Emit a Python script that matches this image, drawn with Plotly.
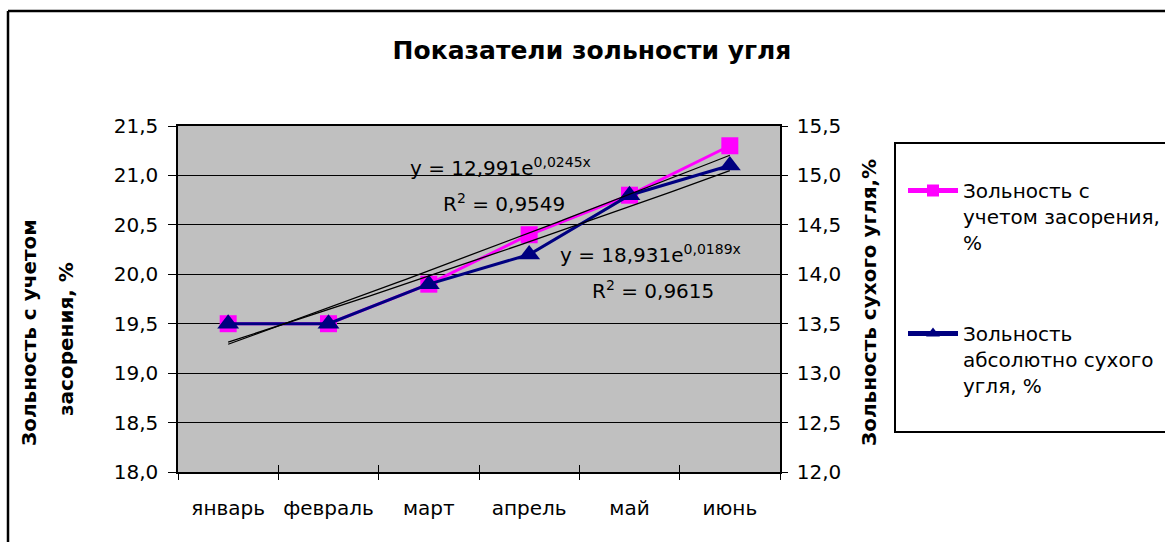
import numpy as np
import plotly.graph_objects as go

# --- data ---------------------------------------------------------------
months = ["январь", "февраль", "март", "апрель", "май", "июнь"]
ash_with_clogging = [19.5, 19.5, 19.9, 20.4, 20.8, 21.3]   # left axis, %
ash_dry_coal = [13.5, 13.5, 13.9, 14.2, 14.8, 15.1]         # right axis, %

# exponential trendlines y = a * exp(b * x), x = month number
trend_dry_coef = (12.991, 0.0245)
trend_dry_r2 = 0.9549
trend_clog_coef = (18.931, 0.0189)
trend_clog_r2 = 0.9615

left_ticks = [18.0, 18.5, 19.0, 19.5, 20.0, 20.5, 21.0, 21.5]
right_ticks = [12.0, 12.5, 13.0, 13.5, 14.0, 14.5, 15.0, 15.5]

# --- layout geometry (pixels) -------------------------------------------
W, H = 1165, 542
L, R, T, B = 178, 780, 126, 472
FONT = "DejaVu Sans"


def px_x(px):
    return (px - L) / (R - L)


def px_y(py):
    return (B - py) / (B - T)


def num(v, d):
    return f"{v:.{d}f}".replace(".", ",")


x_idx = list(range(1, len(months) + 1))
x_fine = np.linspace(1, len(months), 80)

fig = go.Figure()

fig.add_trace(go.Scatter(
    x=x_idx, y=ash_with_clogging, mode="lines+markers",
    name="Зольность с<br>учетом засорения,<br>%",
    legendgroup="a",
    line=dict(color="#FF00FF", width=3),
    marker=dict(symbol="square", size=17, color="#FF00FF"),
    xaxis="x", yaxis="y",
))
fig.add_trace(go.Scatter(
    x=x_idx, y=ash_dry_coal, mode="lines+markers",
    name="Зольность<br>абсолютно сухого<br>угля, %",
    legendgroup="b",
    line=dict(color="#000080", width=3),
    marker=dict(symbol="triangle-up", size=19, color="#000080"),
    xaxis="x", yaxis="y2",
))

# trendlines, drawn on top of the series
a, b = trend_dry_coef
fig.add_trace(go.Scatter(
    x=x_fine, y=a * np.exp(b * x_fine), mode="lines",
    line=dict(color="black", width=1.3), showlegend=False,
    hoverinfo="skip", xaxis="x", yaxis="y3",
))
a, b = trend_clog_coef
fig.add_trace(go.Scatter(
    x=x_fine, y=a * np.exp(b * x_fine), mode="lines",
    line=dict(color="black", width=1.3), showlegend=False,
    hoverinfo="skip", xaxis="x", yaxis="y4",
))

# invisible carrier for the category-label axis
fig.add_trace(go.Scatter(
    x=x_idx[:1], y=left_ticks[:1], mode="markers",
    marker=dict(opacity=0), showlegend=False, hoverinfo="skip",
    xaxis="x2", yaxis="y",
))

bounds = [i + 0.5 for i in range(0, len(months) + 1)]
tickfont = dict(family=FONT, size=20, color="black")
catfont = dict(family=FONT, size=20, color="black")

fig.update_layout(
    width=W, height=H,
    margin=dict(l=L, r=W - R, t=T, b=H - B, autoexpand=False),
    paper_bgcolor="white",
    plot_bgcolor="#C0C0C0",
    separators=", ",
    font=dict(family=FONT, size=18, color="black"),
    title=dict(
        text="<b>Показатели зольности угля</b>",
        font=dict(family=FONT, size=25, color="black"),
        xref="container", x=592 / W, xanchor="center",
        yref="container", y=1 - 50 / H, yanchor="middle",
    ),
    # boundary ticks pointing into the plot area
    xaxis=dict(
        range=[0.5, len(months) + 0.5],
        tickvals=bounds, ticks="inside", ticklen=7,
        tickcolor="black", tickwidth=1.2, showticklabels=False,
        showgrid=False, zeroline=False,
        showline=True, linecolor="black", linewidth=1.5, mirror=True,
    ),
    # month labels plus boundary ticks below the axis
    xaxis2=dict(
        overlaying="x", anchor="y", side="bottom",
        range=[0.5, len(months) + 0.5],
        tickvals=x_idx, ticktext=months, ticks="",
        tickfont=catfont, ticklabelstandoff=22,
        showgrid=False, zeroline=False,
        minor=dict(tickvals=bounds, ticks="outside", ticklen=7,
                   tickcolor="black", tickwidth=1.2, showgrid=False),
    ),
    yaxis=dict(
        range=[left_ticks[0], left_ticks[-1]],
        tickvals=left_ticks, tickformat=".1f",
        ticks="outside", ticklen=8, tickcolor="black", tickwidth=1.2,
        ticklabelstandoff=6, tickfont=tickfont,
        showgrid=True, gridcolor="black", gridwidth=1.2,
        zeroline=False, showline=True, linecolor="black", linewidth=1.5,
    ),
    yaxis2=dict(
        overlaying="y", side="right", anchor="x",
        range=[right_ticks[0], right_ticks[-1]],
        tickvals=right_ticks, tickformat=".1f",
        ticks="outside", ticklen=6, tickcolor="black", tickwidth=1.2,
        ticklabelstandoff=5, tickfont=tickfont,
        showgrid=False, zeroline=False,
        showline=True, linecolor="black", linewidth=1.5,
    ),
    yaxis3=dict(
        overlaying="y", anchor="x", range=[right_ticks[0], right_ticks[-1]],
        visible=False,
    ),
    yaxis4=dict(
        overlaying="y", anchor="x", range=[left_ticks[0], left_ticks[-1]],
        visible=False,
    ),
    showlegend=True,
    legend=dict(
        x=px_x(903), y=px_y(171), xanchor="left", yanchor="top",
        xref="paper", yref="paper",
        bgcolor="rgba(0,0,0,0)", borderwidth=0,
        font=dict(family=FONT, size=20, color="black"),
        traceorder="grouped", tracegroupgap=62,
        itemwidth=50, valign="top", itemclick=False,
        itemsizing="constant",
    ),
)

# chart frame and legend box
frame = dict(color="black", width=2.5)
fig.add_shape(type="line", xref="paper", yref="paper",
              x0=px_x(8), x1=px_x(8), y0=px_y(11), y1=px_y(560), line=frame)
fig.add_shape(type="line", xref="paper", yref="paper",
              x0=px_x(8), x1=px_x(1180), y0=px_y(11), y1=px_y(11), line=frame)
fig.add_shape(type="rect", xref="paper", yref="paper",
              x0=px_x(895), x1=px_x(1180), y0=px_y(432), y1=px_y(143),
              line=dict(color="black", width=2))

# axis titles
title_font = dict(family=FONT, size=20, color="black")
for text, tx, ty in [("<b>Зольность с учетом</b>", 29, 333),
                     ("<b>засорения, %</b>", 66, 339)]:
    fig.add_annotation(
        text=text, xref="paper", yref="paper", x=px_x(tx), y=px_y(ty),
        xanchor="center", yanchor="middle",
        textangle=-90, showarrow=False, font=title_font,
    )
fig.add_annotation(
    text="<b>Зольность сухого угля,%</b>",
    xref="paper", yref="paper", x=px_x(869), y=px_y(303),
    xanchor="center", yanchor="middle",
    textangle=-90, showarrow=False, font=title_font,
)

# trendline equations
eq_font = dict(family=FONT, size=20, color="black")
eqs = [
    (f"y = {num(trend_dry_coef[0], 3)}e<sup>{num(trend_dry_coef[1], 4)}x</sup>", 408, 167),
    (f"R<sup>2</sup> = {num(trend_dry_r2, 4)}", 441, 203),
    (f"y = {num(trend_clog_coef[0], 3)}e<sup>{num(trend_clog_coef[1], 4)}x</sup>", 558, 254),
    (f"R<sup>2</sup> = {num(trend_clog_r2, 4)}", 590, 290),
]
for text, ex, ey in eqs:
    fig.add_annotation(
        text=text, xref="paper", yref="paper", x=px_x(ex), y=px_y(ey),
        xanchor="left", yanchor="middle", showarrow=False, font=eq_font,
    )

fig.write_html("out.html")
